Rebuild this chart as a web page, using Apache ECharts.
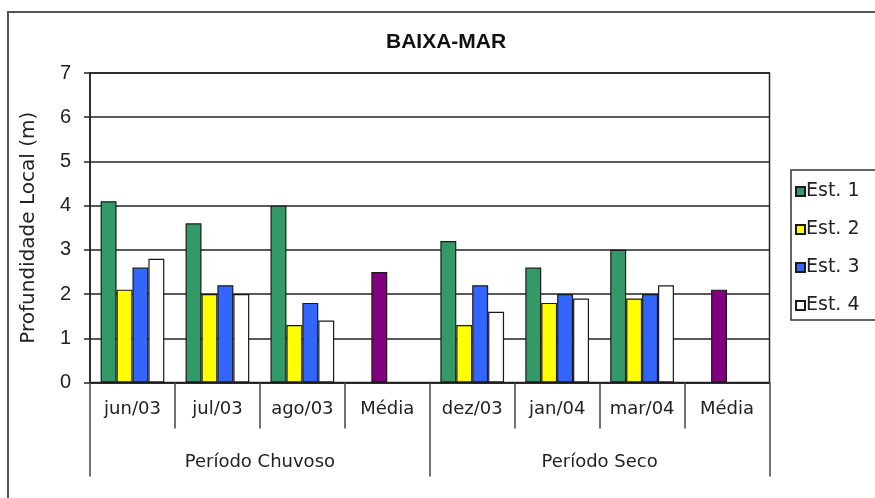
<!DOCTYPE html>
<html>
<head>
<meta charset="utf-8">
<script src="https://cdn.jsdelivr.net/npm/echarts@6/dist/echarts.min.js"></script>
<style>
  html, body { margin: 0; padding: 0; background: #fff; }
  #chart { width: 875px; height: 498px; }
</style>
</head>
<body>
<div id="chart"></div>
<script>
// Local depth at low tide, per station and month
const categories = ['jun/03', 'jul/03', 'ago/03', 'Média', 'dez/03', 'jan/04', 'mar/04', 'Média'];
const periods = ['Período Chuvoso', 'Período Seco'];
const seriesNames = ['Est. 1', 'Est. 2', 'Est. 3', 'Est. 4'];
const est1 = [4.1, 3.6, 4.0, null, 3.2, 2.6, 3.0, null];
const est2 = [2.1, 2.0, 1.3, null, 1.3, 1.8, 1.9, null];
const est3 = [2.6, 2.2, 1.8, null, 2.2, 2.0, 2.0, null];
const est4 = [2.8, 2.0, 1.4, null, 1.6, 1.9, 2.2, null];
const media = [null, null, null, 2.5, null, null, null, 2.1];
const yTicks = [0, 1, 2, 3, 4, 5, 6, 7];

const colors = ['#339966', '#ffff00', '#3366ff', '#ffffff'];
const mediaColor = '#800080';
const lineColor = '#222';
const labelFont = 'DejaVu Sans';

// the period average sits in the second slot of its category, in purple
const est2Data = est2.map((v, i) => media[i] != null
  ? { value: media[i], itemStyle: { color: mediaColor } }
  : v);

const seriesData = [est1, est2Data, est3, est4];

const chart = echarts.init(document.getElementById('chart'), null, { renderer: 'canvas' });

chart.setOption({
  backgroundColor: '#fff',
  animation: false,
  title: {
    text: 'BAIXA-MAR',
    left: 381, top: 27,
    textStyle: { fontFamily: 'Liberation Sans', fontWeight: 'bold', fontSize: 21, color: '#111' }
  },
  graphic: [{
    type: 'rect', silent: true, z: -1,
    shape: { x: 8, y: 12, width: 900, height: 600 },
    style: { fill: 'none', stroke: '#555', lineWidth: 2 }
  }],
  legend: {
    orient: 'vertical',
    left: 791, top: 170,
    data: seriesNames,
    icon: 'rect',
    itemWidth: 9, itemHeight: 9,
    itemGap: 19,
    padding: [12, 60, 5, 4],
    borderColor: '#333', borderWidth: 1.5,
    backgroundColor: '#fff',
    textStyle: { fontFamily: labelFont, fontSize: 19, color: '#222', padding: [0, 0, 0, -4] }
  },
  grid: {
    left: 90, right: 105.5, top: 73, bottom: 115.5,
    show: true, borderColor: lineColor, borderWidth: 1.5, backgroundColor: '#fff'
  },
  xAxis: [{
    type: 'category',
    position: 'bottom',
    data: categories,
    axisLine: { lineStyle: { color: lineColor, width: 1.5 } },
    axisTick: { show: true, length: 46, alignWithLabel: false, lineStyle: { color: '#444', width: 1.5 } },
    axisLabel: { fontFamily: labelFont, fontSize: 18, color: '#222', margin: 18, interval: 0 }
  }, {
    type: 'category',
    position: 'bottom',
    data: periods,
    axisLine: { show: false },
    axisTick: { show: true, length: 94, alignWithLabel: false, lineStyle: { color: '#444', width: 1.5 } },
    axisLabel: { fontFamily: labelFont, fontSize: 18, color: '#222', margin: 71, interval: 0 }
  }],
  yAxis: {
    type: 'value',
    min: yTicks[0], max: yTicks[yTicks.length - 1], interval: 1,
    name: 'Profundidade Local (m)',
    nameLocation: 'middle', nameRotate: 90, nameGap: 51,
    nameTextStyle: { fontFamily: labelFont, fontSize: 20, color: '#222' },
    axisLine: { show: true, lineStyle: { color: lineColor, width: 1.5 } },
    axisTick: { show: true, length: 6, lineStyle: { color: lineColor, width: 1.5 } },
    axisLabel: { fontFamily: 'Liberation Sans', fontSize: 20, color: '#222', margin: 19 },
    splitLine: { show: true, lineStyle: { color: lineColor, width: 1.5 } }
  },
  series: seriesNames.map((name, k) => ({
    name,
    type: 'bar',
    xAxisIndex: 0,
    data: seriesData[k],
    barGap: '0%',
    barCategoryGap: '25%',
    itemStyle: { color: colors[k], borderColor: '#1a1a1a', borderWidth: 1.2 }
  }))
});
</script>
</body>
</html>
